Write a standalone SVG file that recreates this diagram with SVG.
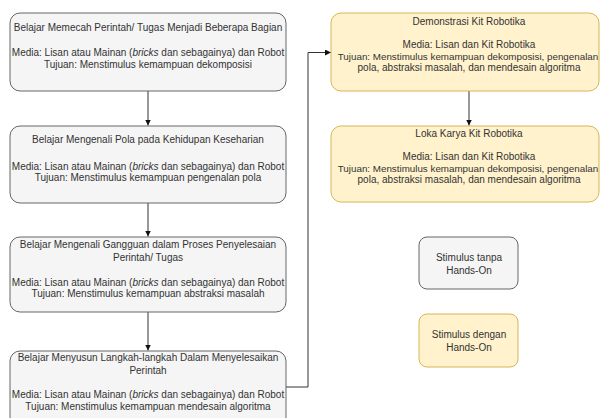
<svg xmlns="http://www.w3.org/2000/svg" width="600" height="418" viewBox="0 0 600 418">
<defs>
<style>
.g{fill:#f5f5f5;stroke:#666666;stroke-width:1}
.y{fill:#fff2cc;stroke:#d6b656;stroke-width:1}
text{font-family:"Liberation Sans",Arial,sans-serif;font-size:10px;fill:#333333;text-anchor:middle}
.s{font-size:9.8px}
.c{fill:none;stroke:#333333;stroke-width:1}
</style>
<marker id="ah" viewBox="0 0 10 10" refX="10" refY="5" markerWidth="6" markerHeight="6" markerUnits="userSpaceOnUse" orient="auto">
<path d="M0,0 L10,5 L0,10 z" fill="#111111"/>
</marker>
</defs>
<rect width="600" height="418" fill="#ffffff"/>
<g id="connectors">
<line class="c" x1="148" y1="91" x2="148" y2="125.5" marker-end="url(#ah)"/>
<line class="c" x1="148" y1="203" x2="148" y2="236.5" marker-end="url(#ah)"/>
<line class="c" x1="148" y1="312" x2="148" y2="350.5" marker-end="url(#ah)"/>
<line class="c" x1="469" y1="91" x2="469" y2="125.5" marker-end="url(#ah)"/>
<path class="c" d="M286,387 H308 V52.5 H331" marker-end="url(#ah)"/>
</g>
<g id="node1">
<rect class="g" x="10" y="13" width="276" height="78" rx="10"/>
<text x="148" y="30.5">Belajar Memecah Perintah/ Tugas Menjadi Beberapa Bagian</text>
<text x="148" y="56">Media: Lisan atau Mainan (<tspan font-style="italic">bricks</tspan> dan sebagainya) dan Robot</text>
<text x="148" y="67.5">Tujuan: Menstimulus kemampuan dekomposisi</text>
</g>
<g id="node2">
<rect class="g" x="10" y="126" width="276" height="77" rx="10"/>
<text x="148" y="143">Belajar Mengenali Pola pada Kehidupan Keseharian</text>
<text x="148" y="169.5">Media: Lisan atau Mainan (<tspan font-style="italic">bricks</tspan> dan sebagainya) dan Robot</text>
<text x="148" y="180.5">Tujuan: Menstimulus kemampuan pengenalan pola</text>
</g>
<g id="node3">
<rect class="g" x="10" y="237" width="276" height="75" rx="10"/>
<text x="148" y="248">Belajar Mengenali Gangguan dalam Proses Penyelesaian</text>
<text x="148" y="260.5">Perintah/ Tugas</text>
<text x="148" y="286">Media: Lisan atau Mainan (<tspan font-style="italic">bricks</tspan> dan sebagainya) dan Robot</text>
<text x="148" y="297">Tujuan: Menstimulus kemampuan abstraksi masalah</text>
</g>
<g id="node4">
<rect class="g" x="10" y="351" width="276" height="76" rx="10"/>
<text x="148" y="360.5">Belajar Menyusun Langkah-langkah Dalam Menyelesaikan</text>
<text x="148" y="373.5">Perintah</text>
<text x="148" y="398">Media: Lisan atau Mainan (<tspan font-style="italic">bricks</tspan> dan sebagainya) dan Robot</text>
<text x="148" y="409.5">Tujuan: Menstimulus kemampuan mendesain algoritma</text>
</g>
<g id="node5">
<rect class="y" x="331" y="13" width="268" height="78" rx="10"/>
<text x="469" y="24.5">Demonstrasi Kit Robotika</text>
<text x="469" y="47.5">Media: Lisan dan Kit Robotika</text>
<text class="s" x="468" y="59.5">Tujuan: Menstimulus kemampuan dekomposisi, pengenalan</text>
<text x="469" y="70.5">pola, abstraksi masalah, dan mendesain algoritma</text>
</g>
<g id="node6">
<rect class="y" x="331" y="126" width="268" height="76" rx="10"/>
<text x="469" y="137">Loka Karya Kit Robotika</text>
<text x="469" y="160">Media: Lisan dan Kit Robotika</text>
<text class="s" x="468" y="171.5">Tujuan: Menstimulus kemampuan dekomposisi, pengenalan</text>
<text x="469" y="182.5">pola, abstraksi masalah, dan mendesain algoritma</text>
</g>
<g id="legend1">
<rect class="g" x="419" y="237" width="99" height="52" rx="8"/>
<text x="469" y="260.5">Stimulus tanpa</text>
<text x="469" y="273.5">Hands-On</text>
</g>
<g id="legend2">
<rect class="y" x="419" y="314" width="99" height="53" rx="8"/>
<text x="469" y="338">Stimulus dengan</text>
<text x="469" y="350.5">Hands-On</text>
</g>
</svg>
